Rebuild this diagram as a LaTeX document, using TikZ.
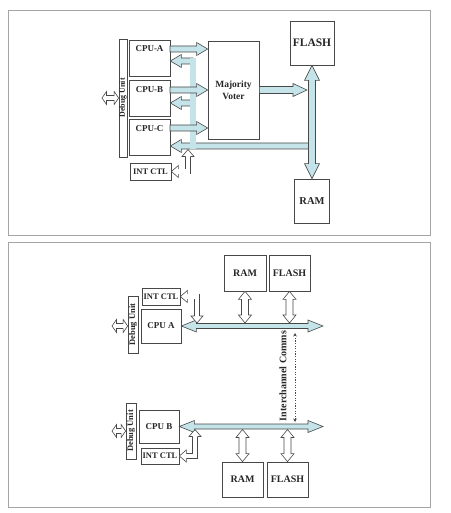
\documentclass[tikz,border=0pt]{standalone}
\usepackage{fontspec}
\setmainfont{Liberation Serif}
\usetikzlibrary{calc,arrows.meta}

\definecolor{busblue}{RGB}{197,228,234}
\definecolor{edgegray}{RGB}{72,72,72}
\definecolor{framegray}{RGB}{165,165,165}

\tikzset{
  fatone/.style n args={3}{to path={let \p1=(\tikztostart), \p2=(\tikztotarget), \n1={atan2(\y2-\y1,\x2-\x1)} in
    ($(\p1)+(\n1+90:#1)$) -- ($(\p2)+(\n1+180:#3)+(\n1+90:#1)$) -- ($(\p2)+(\n1+180:#3)+(\n1+90:#2)$) -- (\p2)
    -- ($(\p2)+(\n1+180:#3)+(\n1-90:#2)$) -- ($(\p2)+(\n1+180:#3)+(\n1-90:#1)$) -- ($(\p1)+(\n1-90:#1)$) -- cycle}},
  fattwo/.style n args={3}{to path={let \p1=(\tikztostart), \p2=(\tikztotarget), \n1={atan2(\y2-\y1,\x2-\x1)} in
    (\p1) -- ($(\p1)+(\n1:#3)+(\n1+90:#2)$) -- ($(\p1)+(\n1:#3)+(\n1+90:#1)$) -- ($(\p2)+(\n1+180:#3)+(\n1+90:#1)$)
    -- ($(\p2)+(\n1+180:#3)+(\n1+90:#2)$) -- (\p2) -- ($(\p2)+(\n1+180:#3)+(\n1-90:#2)$) -- ($(\p2)+(\n1+180:#3)+(\n1-90:#1)$)
    -- ($(\p1)+(\n1:#3)+(\n1-90:#1)$) -- ($(\p1)+(\n1:#3)+(\n1-90:#2)$) -- cycle}},
  pics/tiphead/.style={code={\path[pic actions] (-7pt,2.5pt) -- (-7pt,6pt) -- (0pt,0pt) -- (-7pt,-6pt) -- (-7pt,-2.5pt);}},
}

\begin{document}
\begin{tikzpicture}[x=1pt,y=-1pt,
    frame/.style={draw=framegray, line width=0.8pt},
    blk/.style={draw=edgegray, line width=0.7pt, fill=white, inner sep=0pt, text=black!85},
    cpu/.style={blk, minimum width=41pt, text height=12pt, text depth=24pt, font=\bfseries\fontsize{9}{9}\selectfont},
    ctl/.style={blk, minimum height=17pt, font=\bfseries\fontsize{8.5}{8.5}\selectfont},
    bar/.style={blk, rotate=90, font=\bfseries\fontsize{8}{8}\selectfont},
    mem/.style={blk, font=\bfseries\fontsize{10}{10}\selectfont},
    bus/.style={draw=edgegray, fill=busblue, line width=0.6pt},
    hollow/.style={draw=edgegray, fill=white, line width=0.6pt},
    busedge/.style={draw=edgegray, line width=0.6pt, double=busblue, double distance=5.4pt, line cap=rect},
    busfill/.style={draw=busblue, line width=5.4pt, line cap=rect},
    elbow/.style={draw=edgegray, line width=0.6pt, double=white, double distance=4.4pt, shorten <=6pt, shorten >=6pt},
    feed/.style={fatone={3pt}{6.5pt}{11pt}},
    wide/.style={fattwo={2.5pt}{6pt}{15pt}},
    port/.style={fattwo={3.5pt}{6.5pt}{8pt}},
    plug/.style={fattwo={2.5pt}{6.5pt}{4.5pt}},
    comm/.style={draw=edgegray, line width=0.8pt, dash pattern=on 1.2pt off 1.4pt,
      arrows={Stealth[length=3.5pt,width=3.5pt]-Stealth[length=3.5pt,width=3.5pt]}}]

    \useasboundingbox (0,0) rectangle (450,513);
    \draw[frame] (8,10) rectangle (430,235);
    \draw[frame] (8,242) rectangle (430,507);

    \node[bar, minimum width=118pt, minimum height=8pt] (dbg) at (123,98) {Debug Unit};
    \node[cpu] (cpuA) at (149.5,58) {CPU-A};
    \node[cpu] (cpuB) at (149.5,98.5) {CPU-B};
    \node[cpu] (cpuC) at (149.5,137.5) {CPU-C};
    \node[ctl, minimum width=41pt] (ctl) at (150.5,171.5) {INT CTL};
    \node[blk, minimum width=51pt, minimum height=98pt, align=center,
      font=\bfseries\fontsize{9.5}{12}\selectfont] (voter) at (233.5,90) {Majority\\Voter};
    \node[mem, minimum width=44pt, minimum height=44pt, font=\bfseries\fontsize{11.5}{11.5}\selectfont] (flash) at (312,43) {FLASH};
    \node[mem, minimum width=35pt, minimum height=44pt, font=\bfseries\fontsize{10.5}{10.5}\selectfont] (ram) at (312,201) {RAM};

    \coordinate (oA) at (170,49);
    \coordinate (oB) at (170,90);
    \coordinate (oC) at (170,128);
    \coordinate (fA) at (193,61);
    \coordinate (fB) at (193,103);
    \coordinate (fC) at (193,146);
    \coordinate (vO) at (307,90);
    \coordinate (iT) at (188,149.5);
    \coordinate (dT) at (102,98);

    \draw[busedge] (fA) -- (fC);
    \draw[bus] (flash.south |- fC) to[feed] (cpuC.east |- fC);
    \draw[bus] (fA) to[feed] (cpuA.east |- fA);
    \draw[bus] (fB) to[feed] (cpuB.east |- fB);
    \draw[busfill] (fA) -- (fC);
    \draw[bus] (oA) to[feed] (voter.west |- oA);
    \draw[bus] (oB) to[feed] (voter.west |- oB);
    \draw[bus] (oC) to[feed] (voter.west |- oC);
    \draw[bus] (voter.east) to[fatone={3.5pt}{6.5pt}{14pt}] (vO);
    \draw[bus] (flash.south) to[fattwo={3.5pt}{7.5pt}{15pt}] (ram.north);
    \draw[elbow] (ctl.east) -| (iT);
    \pic[hollow, rotate=180] at (ctl.east) {tiphead};
    \pic[hollow, rotate=90] at (iT) {tiphead};
    \draw[hollow] (dT) to[plug] (dbg.north |- dT);

    \node[mem, minimum width=42pt, minimum height=36pt] (ram1) at (245,273) {RAM};
    \node[mem, minimum width=41pt, minimum height=36pt] (flash1) at (289.5,273) {FLASH};
    \node[ctl, minimum width=38pt] (ctl1) at (161,296.5) {INT CTL};
    \node[mem, minimum width=40pt, minimum height=34pt, font=\bfseries\fontsize{9}{9}\selectfont] (cpu1) at (161,326) {CPU A};
    \node[bar, minimum width=57pt, minimum height=10pt, font=\bfseries\fontsize{8.5}{8.5}\selectfont] (dbg1) at (133,324.5) {Debug Unit};
    \node[mem, minimum width=40pt, minimum height=33pt, font=\bfseries\fontsize{9}{9}\selectfont] (cpu2) at (159,426.5) {CPU B};
    \node[ctl, minimum width=38pt, minimum height=16pt] (ctl2) at (160,456) {INT CTL};
    \node[bar, minimum width=56pt, minimum height=10pt, font=\bfseries\fontsize{8.5}{8.5}\selectfont] (dbg2) at (131,431) {Debug Unit};
    \node[mem, minimum width=41pt, minimum height=35pt] (ram2) at (242.5,479.5) {RAM};
    \node[mem, minimum width=41pt, minimum height=35pt] (flash2) at (287.5,479.5) {FLASH};
    \node[rotate=90, text=black!85, font=\bfseries\fontsize{10}{10}\selectfont] (comms) at (283,376) {Interchannel Comms};

    \coordinate (b1) at (323,326);
    \coordinate (b2) at (323,426.5);
    \coordinate (u1) at (200,323);
    \coordinate (u2) at (200,429.5);
    \coordinate (k1) at (197,323);
    \coordinate (k2) at (195,429.5);
    \coordinate (d1) at (112,326);
    \coordinate (d2) at (112,431);
    \coordinate (ic1) at (295,333);
    \coordinate (ic2) at (295,422);

    \draw[bus] (cpu1.east) to[wide] (b1);
    \draw[bus] (cpu2.east) to[wide] (b2);
    \draw[hollow] (ram1.south) to[port] (ram1.south |- u1);
    \draw[hollow] (flash1.south) to[port] (flash1.south |- u1);
    \draw[hollow] (ram2.north) to[port] (ram2.north |- u2);
    \draw[hollow] (flash2.north) to[port] (flash2.north |- u2);
    \draw[elbow] (ctl1.east) -| (k1);
    \pic[hollow, rotate=180] at (ctl1.east) {tiphead};
    \pic[hollow, rotate=-90] at (k1) {tiphead};
    \draw[elbow] (ctl2.east) -| (k2);
    \pic[hollow, rotate=180] at (ctl2.east) {tiphead};
    \pic[hollow, rotate=90] at (k2) {tiphead};
    \draw[hollow] (d1) to[plug] (dbg1.north |- d1);
    \draw[hollow] (d2) to[plug] (dbg2.north |- d2);
    \draw[comm] (ic1) -- (ic2);
\end{tikzpicture}
\end{document}
